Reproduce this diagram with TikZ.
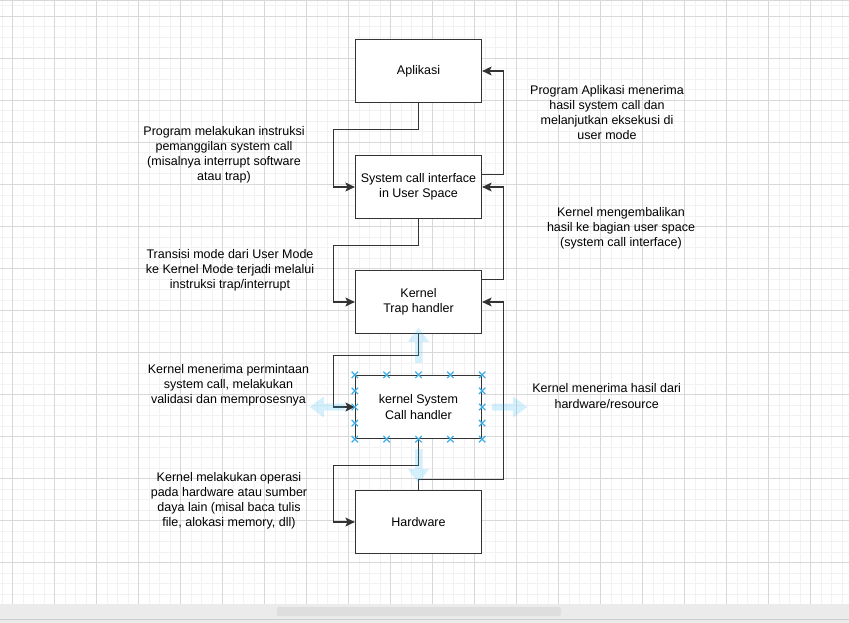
\documentclass[tikz,border=0pt]{standalone}
\usepackage{fontspec}
\setmainfont{Liberation Sans}
\usetikzlibrary{arrows.meta,calc}
\definecolor{gridminor}{HTML}{F2F2F2}
\definecolor{gridmajor}{HTML}{D8D8D8}
\definecolor{ink}{HTML}{333333}
\definecolor{handle}{HTML}{3DAEE9}
\definecolor{hoverblue}{RGB}{41,182,242}
\definecolor{barbg}{HTML}{EBEBEB}
\definecolor{barthumb}{HTML}{DEDEDE}
\definecolor{barline}{HTML}{CDCDCD}
\tikzset{
  box/.style={draw=ink, line width=1.3pt, fill=white, minimum width=126pt,
    minimum height=63pt, inner sep=0pt, align=center, font=\boxfont},
  note/.style={align=center, inner sep=0pt, font=\boxfont},
  conn/.style={draw=ink, line width=1.1pt,
    -{Stealth[length=9.5pt,width=9pt,inset=2.2pt]}},
  hover/.style={fill=hoverblue, fill opacity=0.2},
  handlemark/.style={draw=handle, line width=1.2pt},
}
\newcommand{\boxfont}{\fontsize{12.5}{15.1}\selectfont}
\newcommand{\handleX}[1]{\draw[handlemark] ($(#1)+(-3.2,-3.2)$) -- ++(6.4,6.4) ($(#1)+(-3.2,3.2)$) -- ++(6.4,-6.4);}
\begin{document}
\begin{tikzpicture}[x=1pt,y=-1pt]
\useasboundingbox (0,0) rectangle (849,623);

% canvas grid
\begin{scope}
  \clip (0,0) rectangle (849,604);
  \fill[white] (0,0) rectangle (849,604);
  \foreach \i in {-2,...,82} {
    \draw[gridminor, line width=1pt] ({12.5+10.5*\i},0) -- ({12.5+10.5*\i},604);
  }
  \foreach \j in {-2,...,58} {
    \draw[gridminor, line width=1pt] (0,{16.5+10.5*\j}) -- (849,{16.5+10.5*\j});
  }
  \foreach \i in {0,...,20} {
    \draw[gridmajor, line width=1pt] ({12.5+42*\i},0) -- ({12.5+42*\i},604);
  }
  \foreach \j in {0,...,14} {
    \draw[gridmajor, line width=1pt] (0,{16.5+42*\j}) -- (849,{16.5+42*\j});
  }
  \draw[gridmajor, line width=1pt] (0,0.5) -- (849,0.5);
\end{scope}

% horizontal scroll bar
\fill[barbg] (0,604) rectangle (849,623);
\fill[barthumb, rounded corners=2pt] (277,607) rectangle (561,616);
\draw[barline, line width=1pt] (0,619.5) -- (849,619.5);

% boxes
\node[box] (app) at (418.5,71)  {Aplikasi};
\node[box] (sci) at (418.5,187) {System call interface\\in User Space};
\node[box] (kt)  at (418.5,302) {Kernel\\Trap handler};
\node[box] (ks)  at (418.5,407) {kernel System\\Call handler};
\node[box] (hw)  at (418.5,522) {Hardware};

% downward path (left side)
\draw[conn] (app.south) -- ++(0,26) -| ($(sci.west)+(-21,0)$) -- (sci.west);
\draw[conn] (sci.south) -- ++(0,26) -| ($(kt.west)+(-21,0)$) -- (kt.west);
\draw[conn] (kt.south) -- ++(0,21) -| ($(ks.west)+(-21,0)$) -- (ks.west);
\draw[conn] (ks.south) -- ++(0,26) -| ($(hw.west)+(-21,0)$) -- (hw.west);

% return path (right side)
\draw[conn] ($(sci.north east)+(0,20)$) -- ++(21,0) |- (app.east);
\draw[conn] ($(kt.north east)+(0,10)$) -- ++(21,0) |- (sci.east);
\draw[conn] (hw.north) -- ++(0,-10) -| ($(kt.east)+(21,0)$) -- (kt.east);

% connection hints around the selected handler
\begin{scope}[shift={(ks.north)}]
  \fill[hover] (-3.5,-12) -- (-3.5,-33) -- (-10.5,-33) -- (0,-47) -- (10.5,-33) -- (3.5,-33) -- (3.5,-12) -- cycle;
\end{scope}
\begin{scope}[shift={(ks.south)}]
  \fill[hover] (-3.5,10) -- (-3.5,30) -- (-10.5,30) -- (0,44) -- (10.5,30) -- (3.5,30) -- (3.5,10) -- cycle;
\end{scope}
\begin{scope}[shift={(ks.west)}]
  \fill[hover] (-10,-3.5) -- (-31,-3.5) -- (-31,-10.5) -- (-45,0) -- (-31,10.5) -- (-31,3.5) -- (-10,3.5) -- cycle;
\end{scope}
\begin{scope}[shift={(ks.east)}]
  \fill[hover] (10,-3.5) -- (31,-3.5) -- (31,-10.5) -- (45,0) -- (31,10.5) -- (31,3.5) -- (10,3.5) -- cycle;
\end{scope}

% selection handles
\foreach \t in {0,0.25,0.5,0.75,1} {
  \coordinate (hn) at ($(ks.north west)!\t!(ks.north east)$);
  \coordinate (hs) at ($(ks.south west)!\t!(ks.south east)$);
  \handleX{hn}
  \handleX{hs}
}
\foreach \t in {0.25,0.5,0.75} {
  \coordinate (hw1) at ($(ks.north west)!\t!(ks.south west)$);
  \coordinate (he1) at ($(ks.north east)!\t!(ks.south east)$);
  \handleX{hw1}
  \handleX{he1}
}

% annotations
\node[note] (n1) at (224,154.5) {Program melakukan instruksi\\pemanggilan system call\\(misalnya interrupt software\\atau trap)};
\node[note] (n2) at (607,112.5) {Program Aplikasi menerima\\hasil system call dan\\melanjutkan eksekusi di\\user mode};
\node[note] (n3) at (230,270) {Transisi mode dari User Mode\\ke Kernel Mode terjadi melalui\\instruksi trap/interrupt};
\node[note] (n4) at (621,228.3) {Kernel mengembalikan\\hasil ke bagian user space\\(system call interface)};
\node[note] (n5) at (228.5,385) {Kernel menerima permintaan\\system call, melakukan\\validasi dan memprosesnya};
\node[note] (n6) at (606.7,396) {Kernel menerima hasil dari\\hardware/resource};
\node[note] (n7) at (229,500.5) {Kernel melakukan operasi\\pada hardware atau sumber\\daya lain (misal baca tulis\\file, alokasi memory, dll)};
\end{tikzpicture}
\end{document}
